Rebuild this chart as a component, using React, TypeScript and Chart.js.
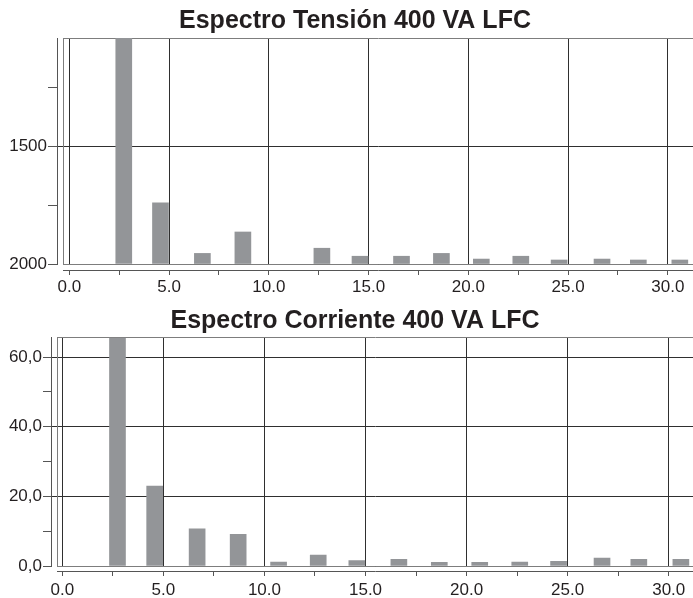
import React, { useEffect, useRef } from "react";
import { Chart, registerables } from "chart.js";

Chart.register(...registerables);

// ---------- data ----------
const harmonicPositions = [2.73, 4.57, 6.67, 8.7, 10.7, 12.66, 14.57, 16.65, 18.65, 20.65, 22.63, 24.55, 26.7, 28.52, 30.6];
const tensionValues: (number | null)[] = [1200, 260, 45, 136, null, 67, 33, 33, 45, 21, 33, 17, 21, 17, 17];
const currentValues: (number | null)[] = [80, 23.0, 10.7, 9.1, 1.15, 3.15, 1.55, 1.9, 1.05, 1.05, 1.15, 1.35, 2.3, 1.9, 1.9];

const xTickValues = [0, 2.5, 5, 7.5, 10, 12.5, 15, 17.5, 20, 22.5, 25, 27.5, 30];
const xTickLabels = ["0.0", "", "5.0", "", "10.0", "", "15.0", "", "20.0", "", "25.0", "", "30.0"];

const tensionYTickValues = [0, 250, 500, 750];
const tensionYTickLabels = ["2000", "", "1500", ""];

const currentYTickValues = [0, 10, 20, 30, 40, 50, 60];
const currentYTickLabels = ["0,0", "", "20,0", "", "40,0", "", "60,0"];

const tensionTitle = "Espectro Tensión 400 VA LFC";
const currentTitle = "Espectro Corriente 400 VA LFC";

// ---------- styles ----------
const FONT = "'Liberation Sans', Arial, Helvetica, sans-serif";
const TEXT = "#231f20";
const GRID = "#2f2f2f";
const AXIS = "#555555";
const PLOT_BORDER = "#7d7d7d";
const BAR = "#939598";
const CLEAR = "rgba(0,0,0,0)";

type Cfg = {
  title: string;
  values: (number | null)[];
  yTicks: number[];
  yLabels: string[];
  yMax: number;
  xMin: number;
  xMax: number;
  yOuter: number;
  yGap: number;
  xOuter: number;
  xGap: number;
  titleTop: number;
  titleBottom: number;
  yTickLen: number;
  xLabelPad: number;
};

function buildConfig(c: Cfg): any {
  const tickFont = { family: FONT, size: 17 };
  const majorY = c.yTicks.filter((v, i) => c.yLabels[i] !== "" && v !== 0);
  return {
    type: "bar",
    data: {
      datasets: [
        {
          data: harmonicPositions.map((x, i) => ({ x, y: c.values[i] })),
          backgroundColor: BAR,
          borderWidth: 0,
          barThickness: 16,
          xAxisID: "x",
          yAxisID: "y",
        },
      ],
    },
    options: {
      animation: false,
      responsive: false,
      maintainAspectRatio: false,
      events: [],
      layout: { padding: { left: 0, right: -17, top: 0, bottom: 0 } },
      plugins: {
        legend: { display: false },
        tooltip: { enabled: false },
        title: {
          display: true,
          text: c.title,
          color: TEXT,
          font: { family: FONT, size: 25, weight: "bold", lineHeight: 1.2 },
          padding: { top: c.titleTop, bottom: c.titleBottom },
        },
      },
      scales: {
        x: {
          type: "linear",
          display: true,
          position: "bottom",
          weight: 5,
          min: c.xMin,
          max: c.xMax,
          bounds: "data",
          offset: false,
          z: 1,
          afterBuildTicks: (s: any) => {
            s.ticks = xTickValues.map((v) => ({ value: v }));
          },
          afterFit: (s: any) => {
            s.height = c.xOuter;
          },
          ticks: {
            autoSkip: false,
            maxRotation: 0,
            minRotation: 0,
            padding: c.xLabelPad,
            color: TEXT,
            font: tickFont,
            callback: (_v: any, i: number) => xTickLabels[i],
          },
          grid: {
            offset: false,
            color: (ctx: any) => (xTickLabels[ctx.index] ? GRID : CLEAR),
            tickColor: AXIS,
            tickLength: 5,
            lineWidth: 1,
          },
          border: { display: true, color: AXIS, width: 1 },
        },
        xPlot: {
          type: "linear",
          display: true,
          position: "bottom",
          weight: 1,
          offset: false,
          z: 1,
          afterFit: (s: any) => {
            s.height = c.xGap;
          },
          ticks: { display: false },
          grid: { display: false, drawTicks: false, offset: false },
          border: { display: true, color: PLOT_BORDER, width: 1 },
        },
        xTop: {
          type: "linear",
          display: true,
          position: "top",
          offset: false,
          z: 1,
          afterFit: (s: any) => {
            s.height = 0;
          },
          ticks: { display: false },
          grid: { display: false, drawTicks: false, offset: false },
          border: { display: true, color: PLOT_BORDER, width: 1 },
        },
        y: {
          type: "linear",
          display: true,
          position: "left",
          weight: 5,
          min: 0,
          max: c.yMax,
          bounds: "data",
          z: 1,
          afterBuildTicks: (s: any) => {
            s.ticks = c.yTicks.map((v) => ({ value: v }));
          },
          afterFit: (s: any) => {
            s.width = c.yOuter;
          },
          ticks: {
            padding: 1,
            color: TEXT,
            font: tickFont,
            callback: (_v: any, i: number) => c.yLabels[i],
          },
          grid: {
            color: (ctx: any) => (c.yLabels[ctx.index] ? GRID : CLEAR),
            tickColor: AXIS,
            tickLength: c.yTickLen,
            lineWidth: 1,
          },
          border: { display: true, color: AXIS, width: 1 },
        },
        yPlot: {
          type: "linear",
          display: true,
          position: "left",
          weight: 1,
          min: 0,
          max: c.yMax,
          bounds: "data",
          z: 1,
          afterBuildTicks: (s: any) => {
            s.ticks = majorY.map((v) => ({ value: v }));
          },
          afterFit: (s: any) => {
            s.width = c.yGap;
          },
          ticks: { display: false },
          grid: {
            drawOnChartArea: false,
            drawTicks: true,
            tickLength: c.yGap,
            tickColor: GRID,
            color: GRID,
          },
          border: { display: true, color: PLOT_BORDER, width: 1 },
        },
      },
    },
  };
}

function SpectrumChart({ cfg, width, height }: { cfg: Cfg; width: number; height: number }) {
  const ref = useRef<HTMLCanvasElement | null>(null);
  useEffect(() => {
    if (!ref.current) return;
    const chart = new Chart(ref.current, buildConfig(cfg));
    return () => chart.destroy();
  }, []);
  return <canvas ref={ref} width={width} height={height} style={{ display: "block", width, height }} />;
}

export default function App() {
  const tensionCfg: Cfg = {
    title: tensionTitle,
    values: tensionValues,
    yTicks: tensionYTickValues,
    yLabels: tensionYTickLabels,
    yMax: 960,
    xMin: -0.316,
    xMax: 31.26,
    yOuter: 57,
    yGap: 6,
    xOuter: 30,
    xGap: 6,
    titleTop: 6,
    titleBottom: 2,
    yTickLen: 9,
    xLabelPad: 2,
  };
  const currentCfg: Cfg = {
    title: currentTitle,
    values: currentValues,
    yTicks: currentYTickValues,
    yLabels: currentYTickLabels,
    yMax: 65.6,
    xMin: -0.262,
    xMax: 31.2,
    yOuter: 51,
    yGap: 6,
    xOuter: 27,
    xGap: 5,
    titleTop: 6.2,
    titleBottom: 1.5,
    yTickLen: 8,
    xLabelPad: 4,
  };
  return (
    <div style={{ position: "fixed", left: 0, top: 0, width: 693, height: 598, background: "#ffffff" }}>
      <SpectrumChart cfg={tensionCfg} width={693} height={300} />
      <SpectrumChart cfg={currentCfg} width={693} height={298} />
    </div>
  );
}
